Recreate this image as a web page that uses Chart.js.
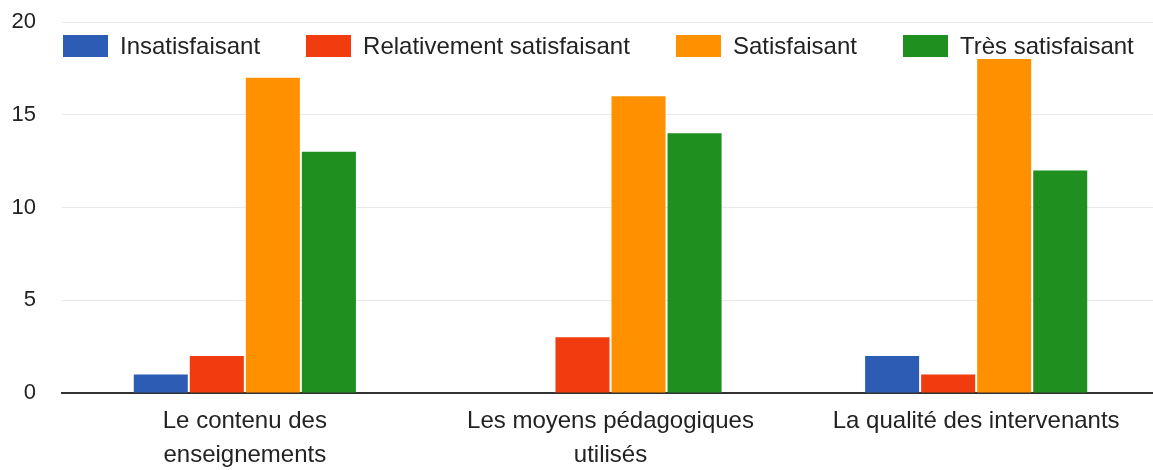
<!DOCTYPE html>
<html>
<head>
<meta charset="utf-8">
<style>
    html, body { margin: 0; padding: 0; background: #fff; overflow: hidden; }
    .wrap { position: relative; width: 1160px; height: 470px; }
    #legend {
        position: absolute; left: 63px; top: 35px;
        display: flex; gap: 46px;
        font-family: "Liberation Sans", Arial, sans-serif; font-size: 24px; color: #222;
    }
    #legend .item { display: flex; align-items: center; gap: 12px; height: 22px; }
    #legend .box { width: 45px; height: 22px; }
</style>
</head>
<body>
<div class="wrap">
    <canvas id="chart" width="1160" height="470"></canvas>
    <div id="legend"></div>
</div>
<script src="https://cdn.jsdelivr.net/npm/chart.js"></script>
<script>
    // categories & series
    const categories = [
        ['Le contenu des', 'enseignements'],
        ['Les moyens pédagogiques', 'utilisés'],
        ['La qualité des intervenants']
    ];
    const seriesNames = ['Insatisfaisant', 'Relativement satisfaisant', 'Satisfaisant', 'Très satisfaisant'];
    const insatisfaisant = [1, 0, 2];
    const relativement = [2, 3, 1];
    const satisfaisant = [17, 16, 18];
    const tresSatisfaisant = [13, 14, 12];
    const yTicks = [0, 5, 10, 15, 20];

    const colors = ['#2d5cb4', '#f03c0f', '#ff9000', '#1f8f1f'];
    const values = [insatisfaisant, relativement, satisfaisant, tresSatisfaisant];
    const font = { family: '"Liberation Sans", Arial, sans-serif', size: 22 };

    const chart = new Chart(document.getElementById('chart'), {
        type: 'bar',
        data: {
            labels: categories,
            datasets: seriesNames.map((name, i) => ({
                label: name,
                data: values[i],
                backgroundColor: colors[i],
                categoryPercentage: 0.613,
                barPercentage: 0.964
            }))
        },
        options: {
            responsive: false,
            animation: false,
            layout: { padding: { left: 0, top: 22, right: 1, bottom: 0 } },
            plugins: { legend: { display: false }, tooltip: { enabled: false } },
            scales: {
                x: {
                    afterFit: (axis) => { axis.height = 77; },
                    grid: { display: false },
                    border: { display: true, color: '#333', width: 2 },
                    ticks: { color: '#222', font: { family: font.family, size: 24, lineHeight: 1.42 }, padding: 3, maxRotation: 0 }
                },
                y: {
                    min: 0, max: 20,
                    afterFit: (axis) => {
                        axis.width = 62;
                        axis.paddingTop = 0;
                        axis.paddingBottom = 0;
                    },
                    afterBuildTicks: (axis) => { axis.ticks = yTicks.map(v => ({ value: v })); },
                    grid: {
                        color: (ctx) => ctx.tick && ctx.tick.value === 0 ? 'rgba(0,0,0,0)' : '#e9e9e9',
                        drawTicks: false
                    },
                    border: { display: false },
                    ticks: { color: '#222', font: font, padding: 26 }
                }
            }
        }
    });

    // html legend built from series
    const legend = document.getElementById('legend');
    seriesNames.forEach((name, i) => {
        const item = document.createElement('div');
        item.className = 'item';
        item.innerHTML = '<span class="box" style="background:' + colors[i] + '"></span><span>' + name + '</span>';
        legend.appendChild(item);
    });
</script>
</body>
</html>
